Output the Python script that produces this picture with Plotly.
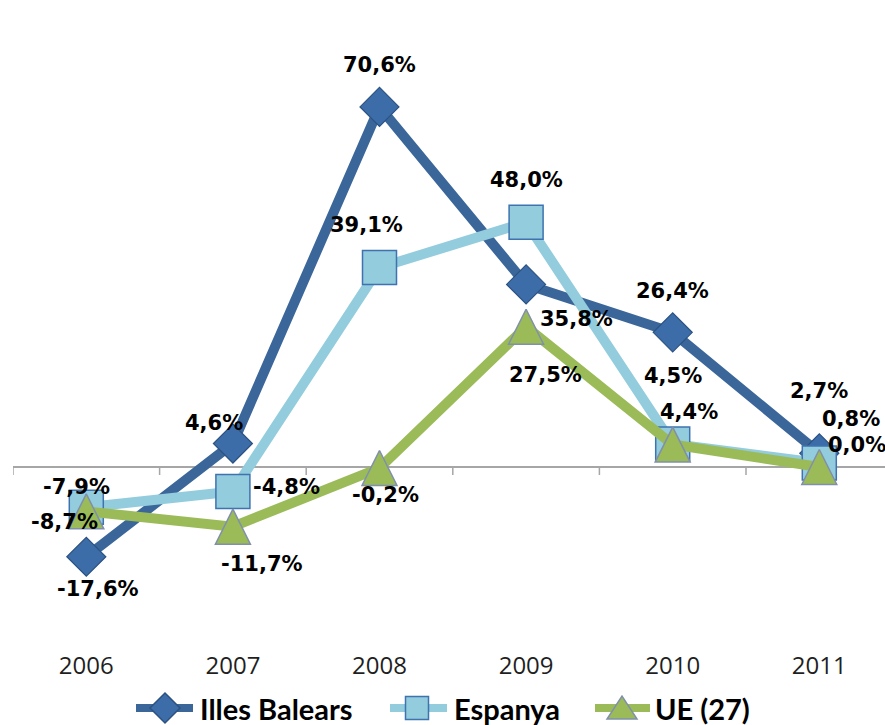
import plotly.graph_objects as go

# Year-on-year change (%) for three territories
years = ["2006", "2007", "2008", "2009", "2010", "2011"]
series_names = ["Illes Balears", "Espanya", "UE (27)"]
illes_balears = [-17.6, 4.6, 70.6, 35.8, 26.4, 2.7]
espanya = [-7.9, -4.8, 39.1, 48.0, 4.5, 0.8]
ue27 = [-8.7, -11.7, -0.2, 27.5, 4.4, 0.0]

# Label offsets in screen pixels (dx right, dy down) for each point
label_offsets = [
    [(12, 32), (-19, -21), (0, -42), (50, 35), (0, -41), (0, -62)],
    [(-10, -20), (54, -4), (-13, -43), (0, -42), (0, -68), (32, -44)],
    [(-22, 11), (29, 37), (6, 27), (19, 48), (16, -33), (38, -22)],
]

line_colors = ["#3B6699", "#93CDDD", "#9BBB59"]
marker_fill = ["#3D6DA8", "#93CDDD", "#9BBB59"]
marker_edge = ["#2B5283", "#3E72B0", "#8090AA"]

# Figure geometry (pixels)
FIG_W, FIG_H = 885, 725
M_L, M_R, M_T, M_B = 13, 0, 0, 80
PLOT_W = FIG_W - M_L - M_R
PLOT_H = FIG_H - M_T - M_B
PX_PER_UNIT = 5.1
ZERO_PX = 467  # vertical pixel of the value 0
Y_MAX = (ZERO_PX - M_T) / PX_PER_UNIT
Y_MIN = -(M_T + PLOT_H - ZERO_PX) / PX_PER_UNIT
X_MIN = -0.5
X_MAX = X_MIN + PLOT_W / 146.6

TRI_SIZE = 35
tri_shift = (TRI_SIZE / 2) / PX_PER_UNIT

xs = list(range(len(years)))
data = [illes_balears, espanya, ue27]

fig = go.Figure()

# Illes Balears and Espanya: lines with markers
fig.add_trace(go.Scatter(
    x=xs, y=illes_balears, mode="lines+markers", name=series_names[0],
    line=dict(color=line_colors[0], width=10),
    marker=dict(symbol="diamond", size=30, color=marker_fill[0],
                line=dict(color=marker_edge[0], width=1.2)),
    cliponaxis=False, showlegend=False,
))
fig.add_trace(go.Scatter(
    x=xs, y=espanya, mode="lines+markers", name=series_names[1],
    line=dict(color=line_colors[1], width=10),
    marker=dict(symbol="square", size=34, color=marker_fill[1],
                line=dict(color=marker_edge[1], width=1.5)),
    cliponaxis=False, showlegend=False,
))
# UE (27): line on the main axis, triangle markers on an overlay axis
# whose range is offset so the apex-anchored arrow symbol sits centred.
fig.add_trace(go.Scatter(
    x=xs, y=ue27, mode="lines", name=series_names[2],
    line=dict(color=line_colors[2], width=10),
    cliponaxis=False, showlegend=False,
))
fig.add_trace(go.Scatter(
    x=xs, y=ue27, mode="markers", name=series_names[2], yaxis="y2",
    marker=dict(symbol="arrow-up", size=TRI_SIZE, color=marker_fill[2],
                line=dict(color=marker_edge[2], width=1.5)),
    cliponaxis=False, showlegend=False,
))


def fmt(v):
    return f"{v:.1f}".replace(".", ",") + "%"


annotations = []
for s, vals in enumerate(data):
    for i, v in enumerate(vals):
        dx, dy = label_offsets[s][i]
        annotations.append(dict(
            x=xs[i], y=v, xref="x", yref="y", text=fmt(v), showarrow=False,
            xshift=dx, yshift=-dy, xanchor="center", yanchor="middle",
            font=dict(family="DejaVu Sans", size=21, color="#000000", weight="bold"),
        ))

shapes = []
# Category boundary ticks hanging below the zero line
for i in range(len(years) + 1):
    shapes.append(dict(
        type="line", xref="x", yref="y", x0=i - 0.5, x1=i - 0.5,
        ysizemode="pixel", yanchor=0, y0=0, y1=-8,
        line=dict(color="#A6A6A6", width=1.5),
    ))


# Legend row below the axis
def px_x(px):
    return (px - M_L) / PLOT_W


def px_y(py):
    return (M_T + PLOT_H - py) / PLOT_H


LEG_Y = 708
legend_items = [
    # (line start, line end, marker centre, text start, marker path)
    (136, 193, 165, 198, "M0,15 L15,0 L0,-15 L-15,0 Z"),
    (390, 447, 417, 452, "M-11.5,-11.5 L11.5,-11.5 L11.5,11.5 L-11.5,11.5 Z"),
    (595, 650, 622, 653, "M-15,-11 L15,-11 L0,12 Z"),
]
for k, (lx0, lx1, mx, tx, path) in enumerate(legend_items):
    shapes.append(dict(
        type="line", xref="paper", yref="paper",
        x0=px_x(lx0), x1=px_x(lx1), y0=px_y(LEG_Y), y1=px_y(LEG_Y),
        line=dict(color=line_colors[k], width=8),
    ))
    shapes.append(dict(
        type="path", xref="paper", yref="paper",
        xsizemode="pixel", ysizemode="pixel",
        xanchor=px_x(mx), yanchor=px_y(LEG_Y), path=path,
        fillcolor=marker_fill[k], line=dict(color=marker_edge[k], width=1.5),
    ))
    annotations.append(dict(
        x=px_x(tx), y=px_y(LEG_Y), xref="paper", yref="paper",
        text=series_names[k], showarrow=False, xanchor="left", yanchor="middle",
        font=dict(family="Lato", size=29, color="#000000", weight="bold"),
    ))

fig.update_layout(
    width=FIG_W, height=FIG_H, autosize=False,
    margin=dict(l=M_L, r=M_R, t=M_T, b=M_B, pad=0),
    paper_bgcolor="#FFFFFF", plot_bgcolor="#FFFFFF",
    showlegend=False,
    xaxis=dict(
        range=[X_MIN, X_MAX], tickvals=xs, ticktext=years,
        showgrid=False, zeroline=False, showline=False, ticks="",
        tickfont=dict(family="Open Sans", size=24, color="#1F1F1F"),
        ticklabelstandoff=4,
    ),
    yaxis=dict(
        range=[Y_MIN, Y_MAX], showticklabels=False, showgrid=False,
        zeroline=True, zerolinecolor="#A6A6A6", zerolinewidth=1.5,
        showline=False, ticks="",
    ),
    yaxis2=dict(
        overlaying="y", range=[Y_MIN - tri_shift, Y_MAX - tri_shift],
        showticklabels=False, showgrid=False, zeroline=False,
        showline=False, ticks="",
    ),
    shapes=shapes,
    annotations=annotations,
)

fig.write_html("out.html", config={"displayModeBar": False})
